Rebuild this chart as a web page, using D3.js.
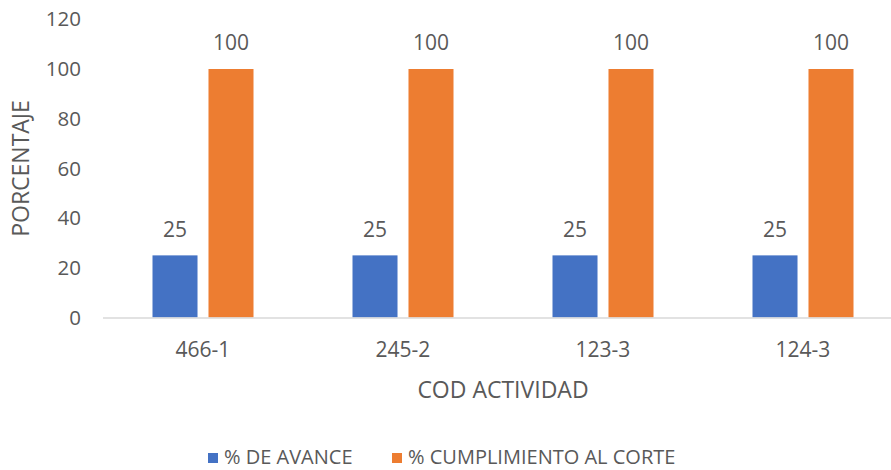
<!DOCTYPE html>
<html>
<head>
<meta charset="utf-8">
<script src="https://cdn.jsdelivr.net/npm/d3@7"></script>
<style>
	body { margin: 0; background: #fff; }
	text { font-family: "Open Sans", "Liberation Sans", sans-serif; fill: #595959; }
</style>
</head>
<body>
<div id="chart"></div>
<script>
// chart data
var categories = ["466-1", "245-2", "123-3", "124-3"];
var avance = [25, 25, 25, 25];
var cumplimiento = [100, 100, 100, 100];
var seriesNames = ["% DE AVANCE", "% CUMPLIMIENTO AL CORTE"];
var yTicks = [0, 20, 40, 60, 80, 100, 120];

var width = 891,
	height = 470;

var colors = ["#4472C4", "#ED7D31"];

var svg = d3.select("#chart").append("svg")
	.attr("width", width)
	.attr("height", height);

var x = d3.scaleBand()
	.domain(categories)
	.range([103, 903]);

var y = d3.scaleLinear()
	.domain([0, 120])
	.range([317.5, 19.3]);

// two bars of 45px with an 11px gap, centred on the category
var sub = d3.scaleBand()
	.domain([0, 1])
	.range([-50.5, 50.5])
	.paddingInner(0.196);

// y tick labels (no gridlines)
svg.append("g")
	.selectAll("text")
	.data(yTicks)
	.enter()
	.append("text")
	.attr("x", 81)
	.attr("y", d => y(d))
	.attr("dy", "0.35em")
	.attr("text-anchor", "end")
	.attr("font-size", 20.5)
	.text(d => d);

// bars
var series = [avance, cumplimiento];
series.forEach(function(vals, i){
	var g = svg.append("g");
	g.selectAll("rect")
		.data(vals)
		.enter()
		.append("rect")
		.attr("x", (d, j) => x(categories[j]) + x.bandwidth()/2 + sub(i))
		.attr("y", d => y(d))
		.attr("width", sub.bandwidth())
		.attr("height", d => y(0) - y(d))
		.attr("fill", colors[i]);

	g.selectAll("text")
		.data(vals)
		.enter()
		.append("text")
		.attr("x", (d, j) => x(categories[j]) + x.bandwidth()/2 + sub(i) + sub.bandwidth()/2)
		.attr("y", d => y(d) - 26)
		.attr("dy", "0.35em")
		.attr("text-anchor", "middle")
		.attr("font-size", 21)
		.text(d => d);
});

// x axis line
svg.append("line")
	.attr("x1", 103)
	.attr("x2", 903)
	.attr("y1", y(0) + 0.5)
	.attr("y2", y(0) + 0.5)
	.attr("stroke", "#D9D9D9")
	.attr("stroke-width", 1.5);

// category labels
svg.append("g")
	.selectAll("text")
	.data(categories)
	.enter()
	.append("text")
	.attr("x", d => x(d) + x.bandwidth()/2)
	.attr("y", 350)
	.attr("dy", "0.35em")
	.attr("text-anchor", "middle")
	.attr("font-size", 21)
	.text(d => d);

// axis titles
svg.append("text")
	.attr("x", 503)
	.attr("y", 390)
	.attr("dy", "0.35em")
	.attr("text-anchor", "middle")
	.attr("font-size", 23)
	.text("COD ACTIVIDAD");

svg.append("text")
	.attr("transform", "translate(21,168.5) rotate(-90)")
	.attr("dy", "0.35em")
	.attr("text-anchor", "middle")
	.attr("font-size", 23)
	.text("PORCENTAJE");

// legend
var legendX = [208, 392];
seriesNames.forEach(function(name, i){
	svg.append("rect")
		.attr("x", legendX[i])
		.attr("y", 453)
		.attr("width", 10)
		.attr("height", 10)
		.attr("fill", colors[i]);
	svg.append("text")
		.attr("x", legendX[i] + 16)
		.attr("y", 464)
		.attr("font-size", 20)
		.text(name);
});
</script>
</body>
</html>
